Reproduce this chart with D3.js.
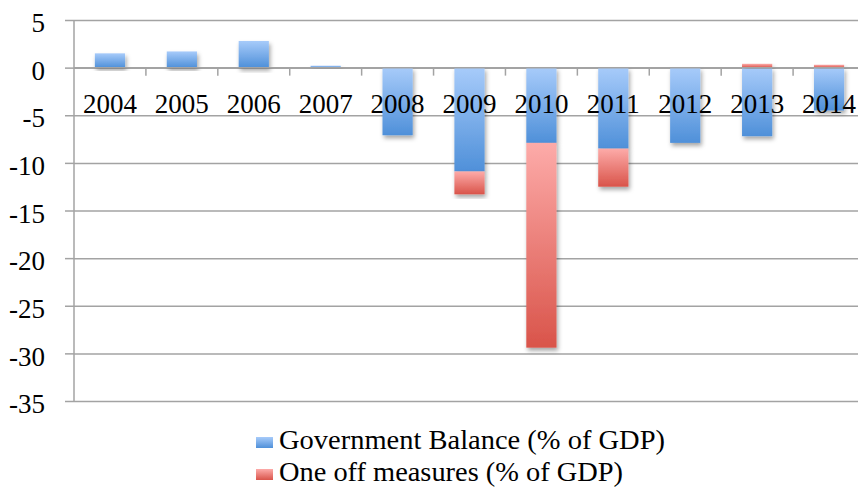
<!DOCTYPE html>
<html>
<head>
<meta charset="utf-8">
<script src="https://cdn.jsdelivr.net/npm/d3@7"></script>
<style>
  html, body { margin: 0; padding: 0; background: #fff; }
  svg { display: block; }
</style>
</head>
<body>
<svg id="chart" width="858" height="495"></svg>
<script>
// Fiscal balance by year, with one-off measures stacked on the balance
const years = ["2004", "2005", "2006", "2007", "2008", "2009", "2010", "2011", "2012", "2013", "2014"];
const governmentBalance = [1.5, 1.7, 2.8, 0.2, -7.1, -10.9, -7.9, -8.5, -7.9, -7.2, -4.5];
const oneOffMeasures = [0, 0, 0, 0, 0, -2.4, -21.5, -4.0, 0, 0.4, 0.3];
const yTicks = [5, 0, -5, -10, -15, -20, -25, -30, -35];
const seriesNames = ["Government Balance (% of GDP)", "One off measures (% of GDP)"];

const FONT = '"Liberation Serif"';
const svg = d3.select("#chart");
const plotLeft = 74, plotRight = 865, plotTop = 20, plotBottom = 401;

const x = d3.scaleBand().domain(years).range([plotLeft, plotRight]).paddingInner(0.58).paddingOuter(0.29);
const xEdge = d3.scaleBand().domain(years).range([plotLeft, plotRight]).padding(0);
const y = d3.scaleLinear().domain([-35, 5]).range([plotBottom, plotTop]);

const defs = svg.append("defs");
function grad(id, c0, c1) {
  const g = defs.append("linearGradient").attr("id", id).attr("x1", 0).attr("y1", 0).attr("x2", 0).attr("y2", 1);
  g.append("stop").attr("offset", "0%").attr("stop-color", c0);
  g.append("stop").attr("offset", "100%").attr("stop-color", c1);
}
grad("gBlue", "#a7cbfa", "#4f90d9");
grad("gRed", "#fdaba9", "#d9544a");
const shadow = defs.append("filter").attr("id", "shadow")
  .attr("x", "-30%").attr("y", "-10%").attr("width", "160%").attr("height", "130%");
shadow.append("feDropShadow").attr("dx", 1.5).attr("dy", 3).attr("stdDeviation", 2.2)
  .attr("flood-color", "#000").attr("flood-opacity", 0.35);

const gridColor = "#a3a3a3";

// Horizontal gridlines and left axis
const yAxis = d3.axisLeft(y).tickValues(yTicks).tickSize(9).tickPadding(20).tickFormat(d => String(d));
const gy = svg.append("g").attr("transform", `translate(${plotLeft},0)`).call(yAxis);
gy.select(".domain").attr("stroke", gridColor).attr("stroke-width", 1.5).attr("d", `M0,${plotTop}V${plotBottom}`);
gy.selectAll(".tick line").attr("stroke", gridColor).attr("stroke-width", 1.5);
gy.selectAll(".tick").append("line")
  .attr("x1", 0).attr("x2", plotRight - plotLeft)
  .attr("stroke", gridColor).attr("stroke-width", 1.5);
gy.selectAll(".tick text")
  .attr("font-size", 27).attr("fill", "#000").attr("dy", "0.43em")
  .style("font-family", FONT);

// Tick marks below the zero line at category boundaries
svg.append("g").selectAll("line").data(years).join("line")
  .attr("x1", d => xEdge(d) + xEdge.step()).attr("x2", d => xEdge(d) + xEdge.step())
  .attr("y1", y(0)).attr("y2", y(0) + 8)
  .attr("stroke", gridColor).attr("stroke-width", 1.5);

// Stacked bars (positive and negative parts stack separately)
const rows = years.map((yr, i) => ({ year: yr, balance: governmentBalance[i], oneoff: oneOffMeasures[i] }));
const stack = d3.stack().keys(["balance", "oneoff"]).offset(d3.stackOffsetDiverging);
const layers = stack(rows);
const fills = ["url(#gBlue)", "url(#gRed)"];

const barsG = svg.append("g");
layers.forEach((layer, li) => {
  barsG.append("g").selectAll("rect")
    .data(layer.filter(d => d[1] - d[0] !== 0))
    .join("rect")
    .attr("x", d => x(d.data.year))
    .attr("width", x.bandwidth())
    .attr("y", d => y(d[1]))
    .attr("height", d => y(d[0]) - y(d[1]))
    .attr("fill", fills[li])
    .attr("filter", "url(#shadow)");
});

// Category labels below the zero line, drawn over the bars
const xAxis = d3.axisBottom(x).tickSize(0).tickPadding(0);
const gx = svg.append("g").attr("transform", `translate(0,${y(0)})`).call(xAxis);
gx.select(".domain").attr("stroke", gridColor).attr("stroke-width", 1.5).attr("d", `M${plotLeft},0H${plotRight}`);
gx.selectAll(".tick text")
  .attr("font-size", 27).attr("fill", "#000").attr("y", 45).attr("dy", 0)
  .style("font-family", FONT);

// Legend
const legendFills = ["url(#gBlue)", "url(#gRed)"];
const legendW = [386, 344];
const lg = svg.append("g");
seriesNames.forEach((name, i) => {
  const base = 449 + i * 32;
  lg.append("rect").attr("x", 256).attr("y", base - 12).attr("width", 17).attr("height", 11)
    .attr("fill", legendFills[i]);
  lg.append("text").attr("x", 279).attr("y", base)
    .attr("font-size", 27).attr("fill", "#000")
    .style("font-family", FONT)
    .attr("textLength", legendW[i]).attr("lengthAdjust", "spacingAndGlyphs")
    .text(name);
});
</script>
</body>
</html>
